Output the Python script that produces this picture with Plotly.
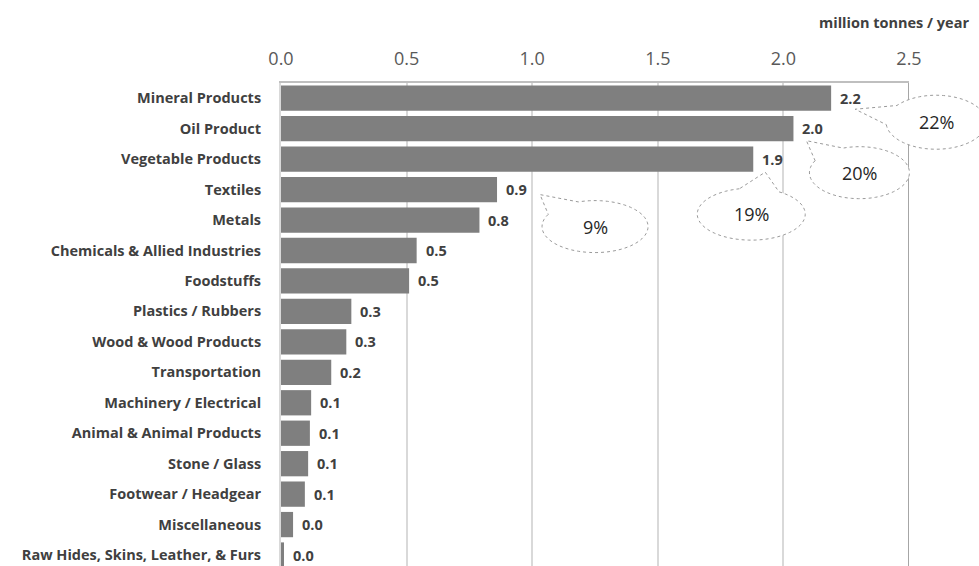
import numpy as np
import plotly.graph_objects as go

# Import volumes by product group (million tonnes / year)
categories = [
    "Mineral Products", "Oil Product", "Vegetable Products", "Textiles", "Metals",
    "Chemicals & Allied Industries", "Foodstuffs", "Plastics / Rubbers",
    "Wood & Wood Products", "Transportation", "Machinery / Electrical",
    "Animal & Animal Products", "Stone / Glass", "Footwear / Headgear",
    "Miscellaneous", "Raw Hides, Skins, Leather, & Furs",
]
volumes = [2.19, 2.04, 1.88, 0.86, 0.79, 0.54, 0.51, 0.28, 0.26, 0.20,
           0.12, 0.115, 0.108, 0.095, 0.048, 0.012]
x_ticks = [0.0, 0.5, 1.0, 1.5, 2.0, 2.5]

# Share callouts: category, text
callout_cats = ["Mineral Products", "Oil Product", "Vegetable Products", "Textiles"]
callout_text = ["22%", "20%", "19%", "9%"]

X_MAX = 2.5
Y_BOTTOM = 15.36
Y_TOP = -0.5

W, H = 979, 566
M_L, M_R, M_T, M_B = 281, 70, 83, 0

BAR = "#7f7f7f"
TXT = "#404040"
FONT = "Open Sans"

fig = go.Figure()
fig.add_trace(go.Bar(
    x=volumes, y=categories, orientation="h",
    marker=dict(color=BAR, line=dict(width=0)),
    width=0.83, hoverinfo="skip",
))

# value labels at the end of each bar
for c, v in zip(categories, volumes):
    fig.add_annotation(
        x=v, y=c, xref="x", yref="y", text=f"{v:.1f}",
        showarrow=False, xanchor="left", yanchor="middle", xshift=7,
        font=dict(family=FONT, size=14.5, color=TXT, weight="bold"),
    )

# speech-bubble callouts: centre / tip offsets in px relative to bar end
bubble_geom = [
    # (centre dx, centre dy, rx, ry, tip dx, tip dy)
    (105, -24, 50, 27, 24, -11),
    (66, -44, 50, 26, 13, -12),
    (-2, -55, 54, 26, 12, -13),
    (98, -37, 53, 26, 43, -5),
]


def bubble_path(cx, cy, rx, ry, tx, ty, half=0.38, n=80):
    ang = np.arctan2((ty - cy) / ry, (tx - cx) / rx)
    a0 = ang + half
    a1 = ang - half + 2 * np.pi
    t = np.linspace(a0, a1, n)
    xs = cx + rx * np.cos(t)
    ys = cy + ry * np.sin(t)
    pts = [f"{x:.2f},{y:.2f}" for x, y in zip(xs, ys)]
    pts.append(f"{tx:.2f},{ty:.2f}")
    return "M" + " L".join(pts) + " Z"


def to_paper(v, c):
    idx = categories.index(c)
    return v / X_MAX, (Y_BOTTOM - idx) / (Y_BOTTOM - Y_TOP)


for c, txt, g in zip(callout_cats, callout_text, bubble_geom):
    v = volumes[categories.index(c)]
    px, py = to_paper(v, c)
    cx, cy, rx, ry, tx, ty = g
    fig.add_shape(
        type="path", xref="paper", yref="paper",
        xsizemode="pixel", ysizemode="pixel", xanchor=px, yanchor=py,
        path=bubble_path(cx, cy, rx, ry, tx, ty),
        line=dict(color="#9a9a9a", width=1, dash="dot"),
        fillcolor="white", layer="above",
    )
    fig.add_annotation(
        x=px, y=py, xref="paper", yref="paper", text=txt, showarrow=False,
        xshift=cx, yshift=cy, xanchor="center", yanchor="middle",
        font=dict(family=FONT, size=18, color="#262626"),
    )

# right-hand frame line of the plot area
fig.add_shape(type="line", xref="x", yref="paper", x0=X_MAX, x1=X_MAX, y0=0, y1=1,
              line=dict(color="#a6a6a6", width=2), layer="below")

# unit label
fig.add_annotation(
    x=1, y=1, xref="paper", yref="paper", text="million tonnes / year",
    showarrow=False, xanchor="right", yanchor="middle", xshift=62, yshift=61,
    font=dict(family=FONT, size=14.5, color=TXT, weight="bold"),
)

fig.update_layout(
    width=W, height=H,
    margin=dict(l=M_L, r=M_R, t=M_T, b=M_B),
    paper_bgcolor="white", plot_bgcolor="white",
    showlegend=False,
    xaxis=dict(
        side="top", range=[0, X_MAX], tickvals=x_ticks,
        ticktext=[f"{t:.1f}" for t in x_ticks],
        showgrid=True, gridcolor="#d9d9d9", gridwidth=2,
        showline=True, linecolor="#bfbfbf", linewidth=2,
        ticks="", ticklabelstandoff=9, zeroline=False,
        tickfont=dict(family=FONT, size=18, color="#595959"),
        fixedrange=True,
    ),
    yaxis=dict(
        type="category", categoryorder="array", categoryarray=categories,
        range=[Y_BOTTOM, Y_TOP],
        showgrid=False, showline=True, linecolor="#d9d9d9", linewidth=2,
        ticks="", ticklabelstandoff=15,
        tickfont=dict(family=FONT, size=14.5, color=TXT, weight="bold"),
        fixedrange=True,
    ),
)

fig.write_html("out.html")
